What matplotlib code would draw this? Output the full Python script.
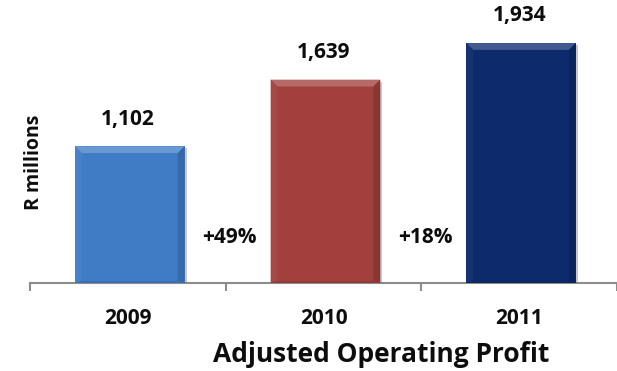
import matplotlib
matplotlib.use("Agg")
import matplotlib.pyplot as plt
import matplotlib.patheffects as pe
from matplotlib.patches import Polygon
import numpy as np
from matplotlib.colors import to_rgb

years = ["2009", "2010", "2011"]
profit = [1102, 1639, 1934]
growth = ["+49%", "+18%"]
bar_colors = ["#3F7CC5", "#A2403D", "#0C2A6C"]

FONT = "Open Sans"
INK = "#0d0d0d"


def shade(color, f):
    c = np.array(to_rgb(color))
    if f > 0:
        return tuple(c + (1 - c) * f)
    return tuple(c * (1 + f))


fig = plt.figure(figsize=(6.17, 3.71), dpi=100)
ax = fig.add_axes([30 / 617, 88 / 371, 1 - 30 / 617, 283 / 371])

x = np.arange(len(years))
width = 0.56
bars = ax.bar(x + 0.01, profit, width=width, color=bar_colors, zorder=3,
              path_effects=[pe.SimplePatchShadow(offset=(1.5, -1.5), shadow_rgbFace="#666666", alpha=0.35),
                            pe.Normal()])

ax.set_xlim(-0.5, 2.48)
ax.set_ylim(0, 2281)

# soft bevel around each bar
bx = 0.035
by = 55
for b, c in zip(bars, bar_colors):
    x0, x1 = b.get_x(), b.get_x() + b.get_width()
    h = b.get_height()
    faces = [
        ([(x0, h), (x1, h), (x1 - bx, h - by), (x0 + bx, h - by)], shade(c, 0.22)),
        ([(x0, 0), (x0, h), (x0 + bx, h - by), (x0 + bx, by * 0.3)], shade(c, 0.04)),
        ([(x1, 0), (x1, h), (x1 - bx, h - by), (x1 - bx, by * 0.3)], shade(c, -0.15)),
        ([(x0, 0), (x1, 0), (x1 - bx, by * 0.3), (x0 + bx, by * 0.3)], shade(c, -0.1)),
    ]
    for pts, fc in faces:
        ax.add_patch(Polygon(pts, closed=True, facecolor=fc, edgecolor="none", zorder=4))

for xi, v in zip(x, profit):
    ax.annotate(f"{v:,}", xy=(xi, v), xytext=(0, 12), textcoords="offset points",
                ha="center", va="bottom", fontsize=15, fontweight="bold",
                family=FONT, color=INK)

for i, g in enumerate(growth):
    ax.text(i + 0.52, 370, g, ha="center", va="center", fontsize=15,
            fontweight="bold", family=FONT, color=INK, zorder=5)

for s in ["top", "left", "right"]:
    ax.spines[s].set_visible(False)
ax.spines["bottom"].set_color("#8c8c8c")
ax.spines["bottom"].set_linewidth(1.5)
ax.set_yticks([])
ax.set_xticks(x)
ax.set_xticklabels(years, fontsize=15, fontweight="bold", family=FONT, color=INK)
ax.tick_params(axis="x", which="major", length=0, pad=18)
ax.set_xticks([-0.5, 0.5, 1.5, 2.5], minor=True)
ax.tick_params(axis="x", which="minor", length=6, width=1.5, color="#8c8c8c", direction="out")

fig.text(381 / 617, 1 - 355 / 371, "Adjusted Operating Profit", ha="center", va="center",
         fontsize=19, fontweight="bold", family=FONT, color=INK)
fig.text(34 / 617, 1 - 162 / 371, "R millions", ha="center", va="center", rotation=90,
         fontsize=14, fontweight="bold", family=FONT, color=INK)

fig.savefig("out.png", dpi=100)
